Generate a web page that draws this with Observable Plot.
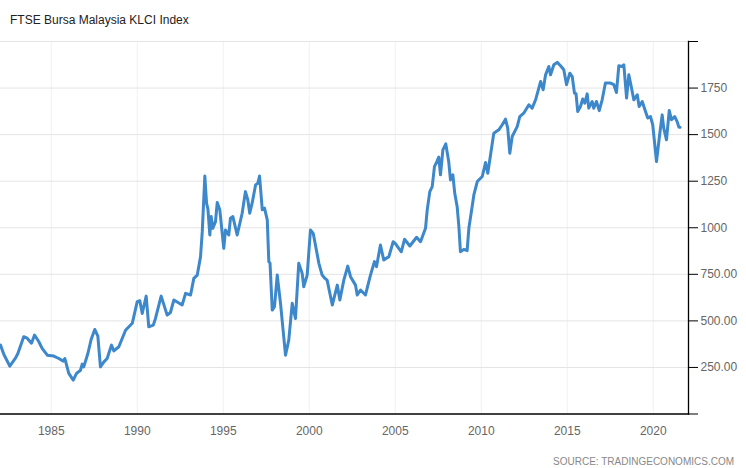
<!DOCTYPE html>
<html>
<head>
<meta charset="utf-8">
<script src="https://cdn.jsdelivr.net/npm/d3@7"></script>
<script src="https://cdn.jsdelivr.net/npm/@observablehq/plot@0.6"></script>
<style>
  html, body { margin: 0; padding: 0; background: #fff; }
  #wrap { position: relative; width: 746px; height: 468px; overflow: hidden; font-family: "Liberation Sans", Arial, sans-serif; }
  #title { position: absolute; left: 10px; top: 13px; font-size: 12px; line-height: 14px; color: #222; white-space: nowrap; }
  #source { position: absolute; right: 12px; top: 456px; font-size: 10px; line-height: 12px; color: #888; white-space: nowrap; }
  #chart { position: absolute; left: 0; top: 0; }
</style>
</head>
<body>
<div id="wrap">
  <div id="chart"></div>
  <div id="title">FTSE Bursa Malaysia KLCI Index</div>
  <div id="source">SOURCE: TRADINGECONOMICS.COM</div>
</div>
<script>
// Decimal years of each reading
const years = [
  1982.05,1982.24,1982.59,1982.92,1983.06,1983.40,1983.60,1983.85,1984.03,1984.28,
  1984.47,1984.77,1985.15,1985.44,1985.70,1985.79,1986.02,1986.28,1986.47,1986.70,
  1986.80,1986.89,1987.13,1987.32,1987.53,1987.71,1987.86,1988.06,1988.25,1988.50,
  1988.64,1988.93,1989.32,1989.71,1990.00,1990.15,1990.29,1990.52,1990.67,1990.93,
  1991.06,1991.39,1991.74,1991.93,1992.13,1992.61,1992.81,1993.10,1993.29,1993.49,
  1993.68,1993.78,1993.93,1994.03,1994.11,1994.22,1994.30,1994.39,1994.55,1994.65,
  1994.80,1995.03,1995.13,1995.32,1995.42,1995.56,1995.81,1996.10,1996.29,1996.43,
  1996.54,1996.68,1996.88,1997.01,1997.11,1997.27,1997.40,1997.56,1997.65,1997.72,
  1997.85,1997.98,1998.14,1998.33,1998.62,1998.81,1999.01,1999.20,1999.39,1999.59,
  1999.68,1999.88,2000.07,2000.23,2000.36,2000.56,2000.75,2000.89,2001.04,2001.34,
  2001.63,2001.78,2002.01,2002.24,2002.40,2002.69,2002.79,2002.98,2003.27,2003.56,
  2003.79,2003.91,2004.14,2004.33,2004.63,2004.88,2005.01,2005.35,2005.54,2005.85,
  2006.24,2006.47,2006.76,2006.86,2007.01,2007.15,2007.28,2007.44,2007.53,2007.63,
  2007.77,2007.94,2008.11,2008.21,2008.35,2008.46,2008.60,2008.70,2008.79,2008.99,
  2009.18,2009.28,2009.47,2009.57,2009.77,2010.06,2010.25,2010.38,2010.54,2010.73,
  2011.02,2011.22,2011.41,2011.54,2011.66,2011.80,2012.09,2012.24,2012.47,2012.77,
  2012.96,2013.16,2013.45,2013.60,2013.74,2013.93,2014.03,2014.22,2014.42,2014.61,
  2014.80,2014.96,2015.15,2015.29,2015.42,2015.51,2015.61,2015.77,2015.90,2016.02,
  2016.16,2016.25,2016.45,2016.54,2016.70,2016.86,2017.03,2017.22,2017.51,2017.71,
  2017.86,2018.00,2018.19,2018.29,2018.45,2018.58,2018.72,2018.87,2019.07,2019.18,
  2019.36,2019.55,2019.68,2019.84,2019.97,2020.19,2020.36,2020.52,2020.61,2020.77,
  2020.93,2021.06,2021.25,2021.39,2021.49,2021.56
];
// Index level at each reading
const klci = [
  370,321,257,300,325,415,407,380,424,388,
  352,316,311,298,284,298,218,182,218,235,
  268,253,325,400,454,418,253,280,298,370,
  339,361,450,487,603,608,540,633,468,477,
  513,633,531,545,612,585,648,639,728,746,
  845,979,1278,1132,1100,961,1060,997,1033,1135,
  1096,890,988,961,1051,1060,961,1078,1194,1149,
  1078,1132,1230,1239,1278,1096,1105,1042,818,810,
  558,576,746,594,316,397,594,513,809,755,
  683,746,988,970,907,809,746,730,719,585,
  692,612,719,794,737,692,639,666,639,746,
  818,791,907,827,845,925,915,871,938,902,
  949,925,997,1096,1194,1221,1328,1359,1379,1284,
  1418,1450,1355,1257,1284,1185,1113,1006,871,884,
  877,997,1113,1176,1248,1275,1350,1293,1391,1508,
  1526,1553,1583,1535,1400,1490,1543,1597,1615,1660,
  1642,1687,1785,1741,1821,1866,1821,1875,1888,1870,
  1848,1768,1830,1812,1723,1720,1624,1651,1691,1669,
  1719,1642,1678,1642,1678,1629,1687,1777,1777,1768,
  1726,1870,1866,1875,1696,1821,1758,1687,1714,1651,
  1678,1624,1589,1597,1553,1355,1490,1606,1535,1472,
  1629,1580,1597,1570,1540,1540
];
const xTicks = [1985, 1990, 1995, 2000, 2005, 2010, 2015, 2020];
const yTicks = [0, 250, 500, 750, 1000, 1250, 1500, 1750, 2000];
const yLabels = ["", "250.00", "500.00", "750.00", "1000", "1250", "1500", "1750", ""];
const xDomain = [1982.05, 2022.05];
const yDomain = [0, 2000];

const data = years.map((t, i) => ({t, v: klci[i]}));

const chart = Plot.plot({
  width: 746,
  height: 445,
  marginLeft: 0,
  marginRight: 58,
  marginTop: 41,
  marginBottom: 31.5,
  style: {fontFamily: "'Liberation Sans', Arial, sans-serif", fontSize: "12px", background: "transparent", overflow: "visible"},
  x: {domain: xDomain},
  y: {domain: yDomain},
  marks: [
    Plot.ruleX(xTicks, {stroke: "#edf1f6", strokeWidth: 1}),
    Plot.ruleY(yTicks.slice(1), {stroke: "#e4e4e4", strokeWidth: 1}),
    Plot.line(data, {x: "t", y: "v", stroke: "#3d87cb", strokeWidth: 3, strokeLinejoin: "round", strokeLinecap: "round", clip: true}),
    Plot.frame({anchor: "bottom", stroke: "#000", strokeWidth: 1.3}),
    Plot.frame({anchor: "right", stroke: "#000", strokeWidth: 1.3}),
    Plot.axisX({ticks: xTicks, tickSize: 0, tickPadding: 12, tickFormat: d => String(d), label: null, color: "#666", stroke: "#666"}),
    Plot.axisY({anchor: "right", ticks: yTicks, tickSize: 9, tickPadding: 3, tickFormat: (d, i) => yLabels[yTicks.indexOf(d)], label: null, color: "#666", stroke: "#000", strokeOpacity: 1})
  ]
});
document.getElementById("chart").appendChild(chart);
</script>
</body>
</html>
